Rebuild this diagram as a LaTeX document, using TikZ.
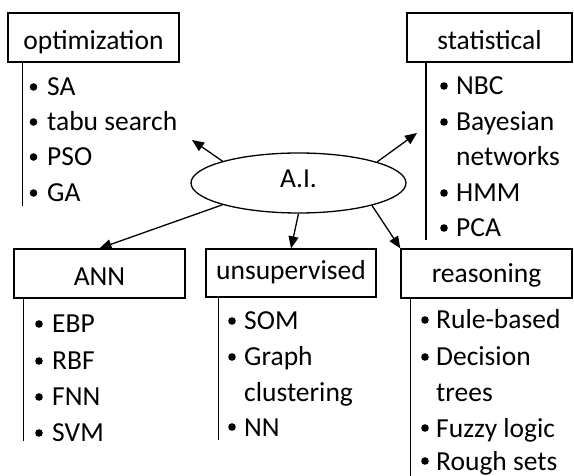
\documentclass[tikz,border=0pt]{standalone}
\usepackage{fontspec}
\setmainfont{Carlito}
\usetikzlibrary{shapes.geometric,arrows.meta}
\tikzset{
  fnt/.style={font=\fontsize{27.5}{33}\selectfont},
  lbl/.style={fnt, inner sep=0pt, anchor=base west},
  box/.style={fnt, draw, line width=1.3pt, rectangle, inner sep=0pt, text depth=0pt, text height=25pt},
  arr/.style={line width=1.3pt, -{Triangle[length=12pt,width=10pt]}},
  vl/.style={line width=1.3pt},
}
\newcommand\bul[2]{\fill (#1,#2) circle (3.8pt);}
\begin{document}
\begin{tikzpicture}[x=1pt,y=-1pt]
\useasboundingbox (0,0) rectangle (574,476);
% central ellipse
\node[ellipse, draw, line width=1.3pt, minimum width=215pt, minimum height=60pt, inner sep=0pt, fnt, text height=10pt, text depth=0pt] (ai) at (298.5,183) {A.I.};
% boxes
\node[box, minimum width=171pt, minimum height=49pt] (opt) at (93.5,37.5) {optimization};
\node[box, minimum width=165pt, minimum height=49pt] (stat) at (489.5,37.5) {statistical};
\node[box, minimum width=171pt, minimum height=49pt] (ann) at (99.5,273.5) {ANN};
\node[box, minimum width=170pt, minimum height=48pt, text height=14pt] (uns) at (291,273) {unsupervised};
\node[box, minimum width=171pt, minimum height=49pt, text height=19pt] (reas) at (486.5,273.5) {reasoning};
% arrow end points
\coordinate (tl) at (192,140);
\coordinate (tr) at (417,133);
\draw[arr] (ai.164.6) -- (tl);
\draw[arr] (ai.15.3) -- (tr);
\draw[arr] (ai.196.4) -- (ann.north);
\draw[arr] (ai.270) -- (uns.north);
\draw[arr] (ai.343.4) -- (reas.north west);
% vertical lines
\draw[vl] ([xshift=15pt]opt.south west) -- ++(0,143);
\draw[vl] ([xshift=19.5pt]stat.south west) -- ++(0,177);
\draw[vl] ([xshift=10pt]ann.south west) -- ++(0,142);
\draw[vl] ([xshift=13pt]uns.south west) -- ++(0,142);
\draw[vl] ([xshift=10pt]reas.south west) -- ++(0,178);
% optimization items
\bul{33.5}{87}\node[lbl] (o1) at (47,96) {SA};
\bul{33.5}{122}\node[lbl] (o2) at (47,131) {tabu search};
\bul{33.5}{157}\node[lbl] (o3) at (47,166) {PSO};
\bul{33.5}{193}\node[lbl] (o4) at (47,202) {GA};
% statistical items
\bul{444}{86}\node[lbl] (s1) at (456,95) {NBC};
\bul{444}{122}\node[lbl] (s2) at (456,131) {Bayesian};
\node[lbl] (s3) at (456,166) {networks};
\bul{444}{193}\node[lbl] (s4) at (456,202) {HMM};
\bul{444}{228}\node[lbl] (s5) at (456,237) {PCA};
% ANN items
\bul{39}{324}\node[lbl] (a1) at (52,333) {EBP};
\bul{39}{361}\node[lbl] (a2) at (52,370) {RBF};
\bul{39}{397}\node[lbl] (a3) at (52,406) {FNN};
\bul{39}{433}\node[lbl] (a4) at (52,442) {SVM};
% unsupervised items
\bul{232}{321}\node[lbl] (u1) at (244,330) {SOM};
\bul{232}{357}\node[lbl] (u2) at (244,366) {Graph};
\node[lbl] (u3) at (244,401) {clustering};
\bul{232}{427}\node[lbl] (u4) at (244,436) {NN};
% reasoning items
\bul{425}{320}\node[lbl] (r1) at (436,329) {Rule-based};
\bul{425}{357}\node[lbl] (r2) at (436,366) {Decision};
\node[lbl] (r3) at (436,401) {trees};
\bul{425}{428}\node[lbl] (r4) at (436,437) {Fuzzy logic};
\bul{425}{461}\node[lbl] (r5) at (436,470) {Rough sets};
\end{tikzpicture}
\end{document}
